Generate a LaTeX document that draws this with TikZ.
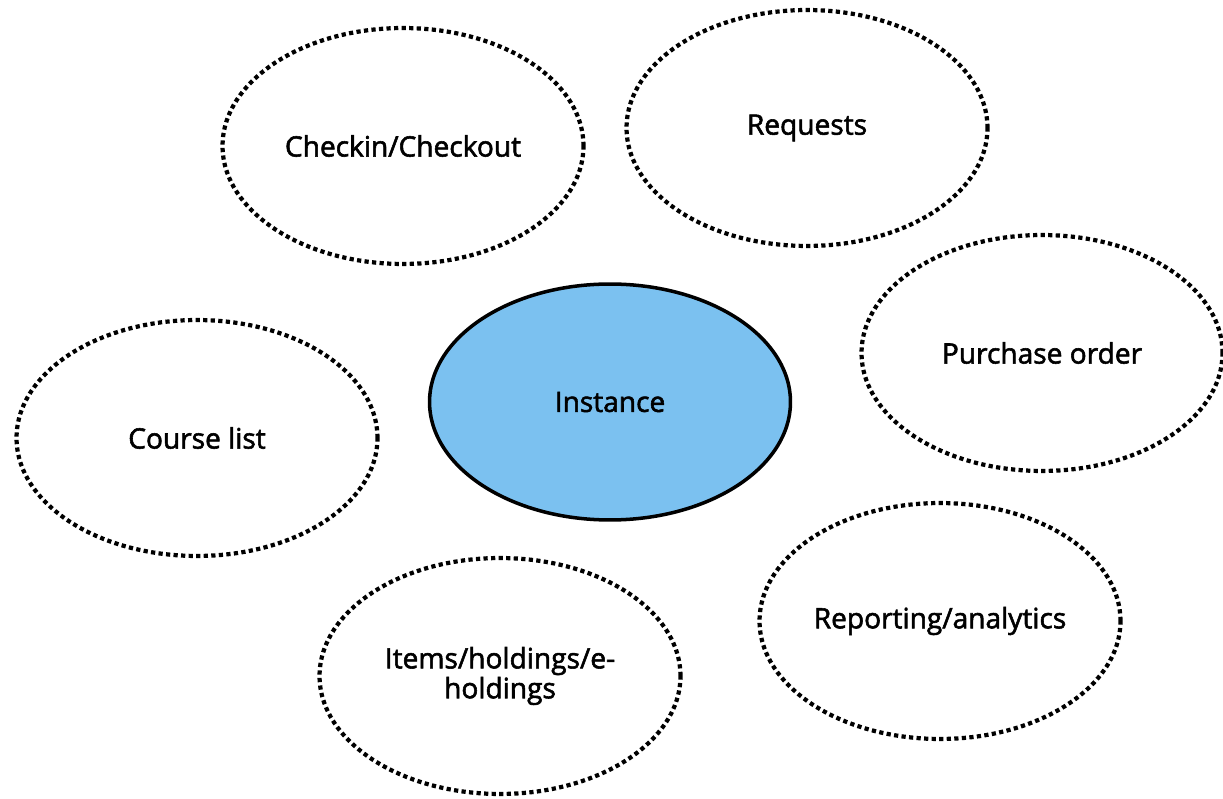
\documentclass[tikz,border=0pt]{standalone}
\usepackage{fontspec}
\setmainfont{Open Sans}
\newfontfamily\bubblefont[FakeBold=2]{Open Sans}
\usetikzlibrary{shapes.geometric}
\definecolor{instblue}{RGB}{123,193,240}

\begin{document}
\begin{tikzpicture}[x=0.02cm,y=0.02cm,
  bubble/.style={ellipse,draw=black,line width=2.4pt,dash pattern=on 2.4pt off 1.9pt,
    minimum width=7.22cm,minimum height=4.72cm,inner sep=0pt,align=center,
    font=\bubblefont\fontsize{16}{17}\selectfont},
  core/.style={bubble,solid,fill=instblue,line width=2pt}]
\useasboundingbox (0,0) rectangle (1223,798);
\node[core] (inst) at (610,396) {Instance};
\node[bubble] (check) at (403,652) {Checkin/Checkout};
\node[bubble] (req) at (807,670) {Requests};
\node[bubble] (purch) at (1042,445) {Purchase order};
\node[bubble] (course) at (197,360) {Course list};
\node[bubble] (report) at (940,177) {Reporting/analytics};
\node[bubble] (items) at (500,122) {Items/holdings/e-\\holdings};
\end{tikzpicture}
\end{document}
